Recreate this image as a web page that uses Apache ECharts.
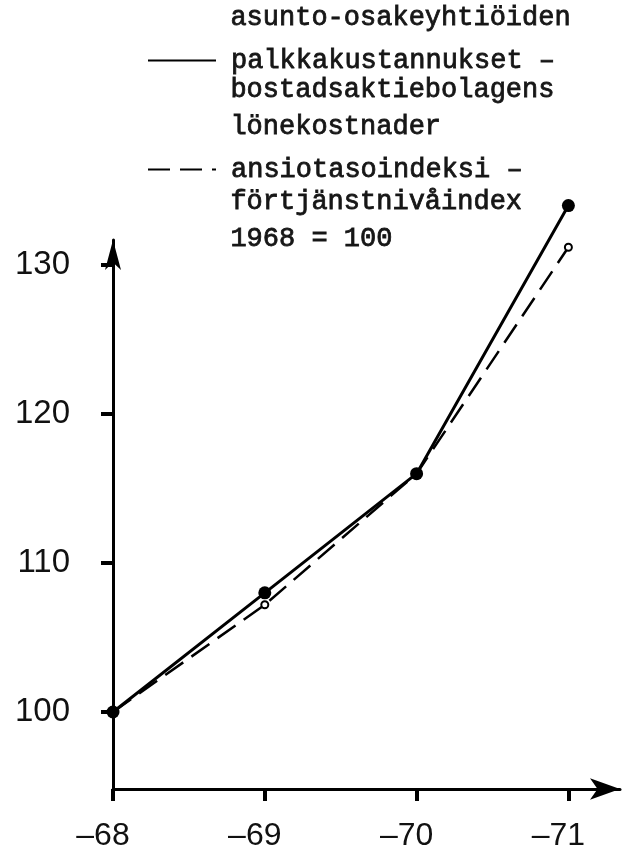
<!DOCTYPE html>
<html>
<head>
<meta charset="utf-8">
<script src="https://cdn.jsdelivr.net/npm/echarts@6/dist/echarts.min.js"></script>
<style>
html,body{margin:0;padding:0;background:#fff;}
#chart{width:627px;height:852px;}
</style>
</head>
<body>
<div id="chart"></div>
<script>
// vuodet / år
var years = [1968, 1969, 1970, 1971];
// asunto-osakeyhtiöiden palkkakustannukset (1968 = 100)
var wageCosts = [100, 108.0, 116.0, 134.0];
// ansiotasoindeksi (1968 = 100)
var earningsIndex = [100, 107.2, 116.0, 131.2];
var yTicks = [100, 110, 120, 130];

var nameSolid = 'asunto-osakeyhtiöiden palkkakustannukset – bostadsaktiebolagens lönekostnader';
var nameDashed = 'ansiotasoindeksi – förtjänstnivåindex';

var monoFont = '"Liberation Mono", "DejaVu Sans Mono", monospace';
var sansFont = '"Liberation Sans", Arial, sans-serif';
var ink = '#161616';

var chart = echarts.init(document.getElementById('chart'));

function pairs(vals) {
  return years.map(function (y, i) { return [y, vals[i]]; });
}

// selitteen muut rivit
function noteText(top, text, lh) {
  return {
    type: 'text', left: 230, top: top,
    style: { text: text, font: '27px ' + monoFont, lineHeight: lh, fill: ink, stroke: ink, lineWidth: 0.8 }
  };
}

var option = {
  animation: false,
  backgroundColor: '#fff',
  grid: { left: 113, right: 7, top: 240, bottom: 56, containLabel: false },
  legend: {
    orient: 'vertical',
    left: 147,
    top: 36,
    padding: 0,
    itemGap: 60,
    itemWidth: 68,
    itemHeight: 14,
    itemStyle: { opacity: 0 },
    data: [nameSolid, nameDashed],
    formatter: function (name) {
      return name === nameSolid ? 'palkkakustannukset –' : 'ansiotasoindeksi –';
    },
    textStyle: {
      fontFamily: monoFont,
      fontSize: 27,
      color: ink,
      textBorderColor: ink,
      textBorderWidth: 0.8,
      lineHeight: 37,
      padding: [0, 0, 12, 10]
    }
  },
  graphic: [
    noteText(1, 'asunto-osakeyhtiöiden', 34),
    noteText(71, 'bostadsaktiebolagens\nlönekostnader', 37.5),
    noteText(183, 'förtjänstnivåindex\n1968 = 100', 37.5)
  ],
  xAxis: {
    type: 'value',
    min: 1968,
    max: 1971.34,
    splitLine: { show: false },
    axisLine: {
      onZero: false,
      lineStyle: { color: '#000', width: 3 },
      symbol: ['none', 'arrow'],
      symbolSize: [16, 30]
    },
    axisTick: {
      customValues: years,
      length: 12,
      lineStyle: { color: '#000', width: 4 }
    },
    axisLabel: {
      customValues: years,
      margin: 31,
      fontFamily: sansFont,
      fontSize: 32,
      color: '#111',
      padding: [0, 20, 0, 0],
      formatter: function (v) { return '–' + String(v).slice(2); }
    }
  },
  yAxis: {
    type: 'value',
    min: 94.83,
    max: 131.69,
    splitLine: { show: false },
    axisLine: {
      show: true,
      onZero: false,
      lineStyle: { color: '#000', width: 3 },
      symbol: ['none', 'arrow'],
      symbolSize: [12, 30]
    },
    axisTick: {
      show: true,
      customValues: yTicks,
      length: 12,
      lineStyle: { color: '#000', width: 4 }
    },
    axisLabel: {
      customValues: yTicks,
      margin: 43,
      fontFamily: sansFont,
      fontSize: 33,
      color: '#111'
    }
  },
  series: [
    {
      name: nameDashed,
      type: 'line',
      clip: false,
      data: pairs(earningsIndex),
      symbol: 'emptyCircle',
      symbolSize: 7,
      itemStyle: { color: '#000', borderWidth: 2 },
      lineStyle: { color: '#000', width: 2.5, type: [22, 10] },
      z: 2
    },
    {
      name: nameSolid,
      type: 'line',
      clip: false,
      data: pairs(wageCosts),
      symbol: 'circle',
      symbolSize: 13,
      itemStyle: { color: '#000' },
      lineStyle: { color: '#000', width: 3 },
      z: 3
    }
  ]
};

chart.setOption(option);
</script>
</body>
</html>
